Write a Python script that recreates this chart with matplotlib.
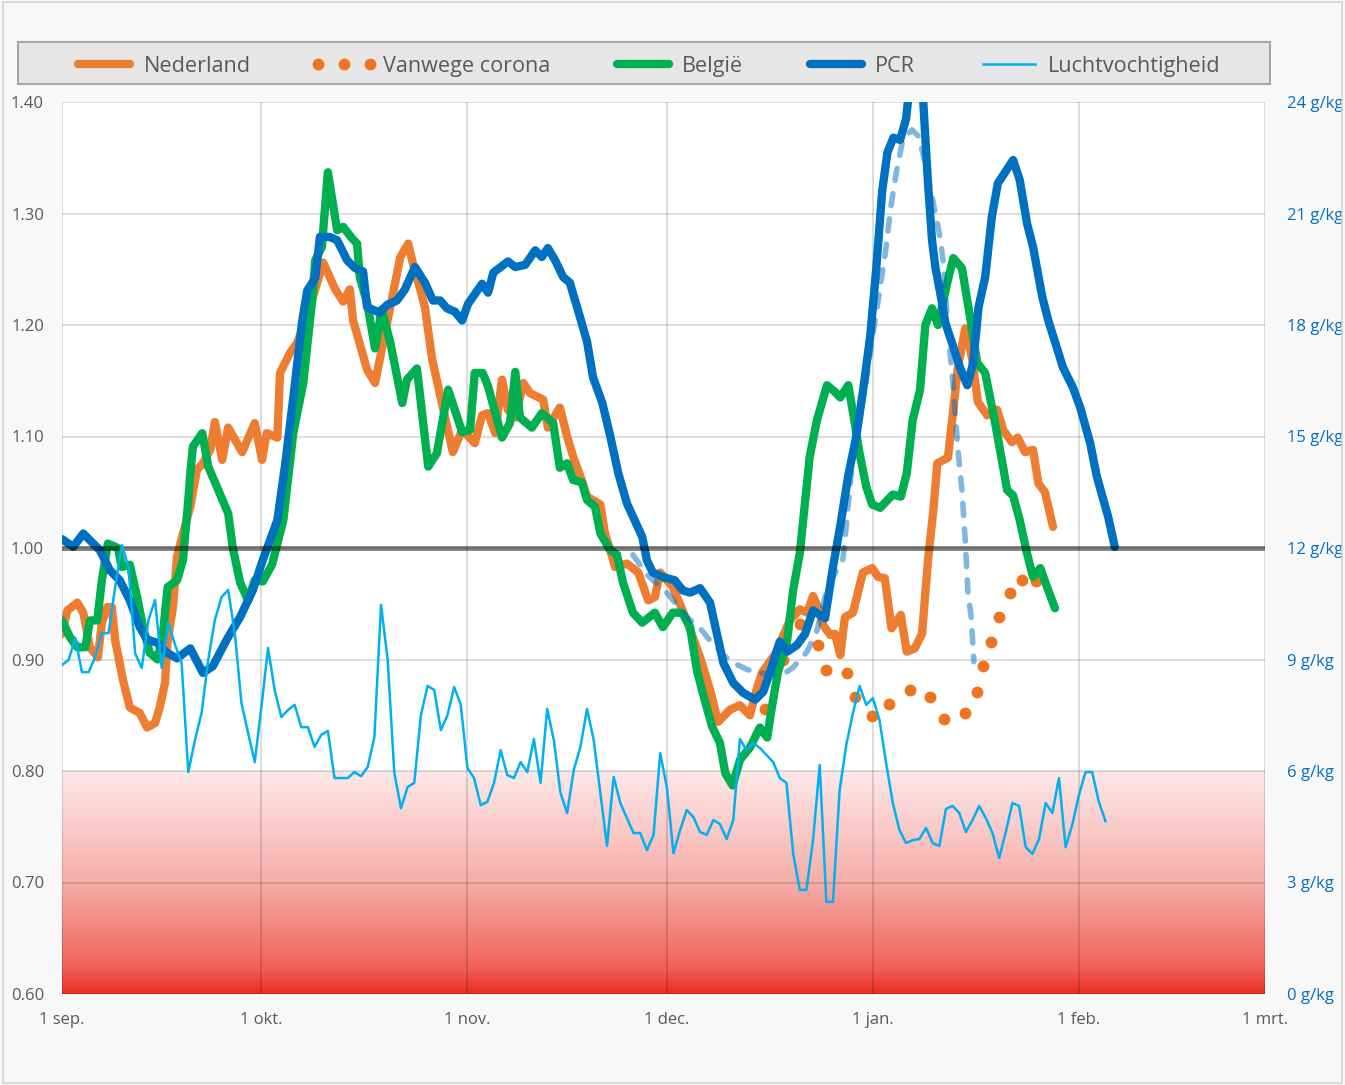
import numpy as np
import matplotlib.pyplot as plt
from matplotlib.colors import LinearSegmentedColormap
from matplotlib.patches import Rectangle

plt.rcParams['font.family'] = ['Open Sans', 'DejaVu Sans']

# x = days since 1 sep.
month_ticks = [0, 30, 61, 91, 122, 153, 181]
month_labels = ['1 sep.', '1 okt.', '1 nov.', '1 dec.', '1 jan.', '1 feb.', '1 mrt.']

# Nederland
nl_days = [0.0, 0.8, 2.3, 3.2, 4.2, 5.4, 6.0, 6.8, 7.5, 8.0, 9.2, 10.2, 11.7, 12.8, 14.0, 14.7,
           15.5, 15.9, 16.7, 17.3, 18.2, 19.3, 20.3, 21.2, 22.3, 23.0, 24.1, 25.0, 27.1, 29.0,
           30.1, 30.8, 32.4, 32.8, 34.3, 35.4, 37.3, 39.3, 41.1, 42.3, 43.3, 43.8, 45.9, 47.1,
           50.9, 52.1, 52.8, 53.9, 54.6, 55.7, 57.3, 58.8, 60.2, 62.1, 63.2, 64.1, 65.2, 66.2,
           67.1, 68.2, 69.4, 70.4, 72.4, 73.1, 74.9, 76.0, 76.9, 78.2, 79.0, 81.0, 81.7, 82.8,
           83.2, 85.0, 86.7, 88.2, 89.2, 90.0, 91.9, 94.0, 96.0, 97.5, 98.7, 100.5, 102.0, 103.5,
           104.6, 105.3, 107.3, 109.5, 111.0, 112.1, 113.0, 113.8, 114.5, 115.6, 116.3, 117.1,
           117.8, 119.0, 120.5, 121.9, 122.8, 123.8, 124.8, 126.2, 127.1, 128.3, 129.4, 130.3,
           131.1, 131.7, 133.3, 134.1, 134.8, 135.9, 136.9, 137.8, 139.2, 140.7, 141.6, 142.9,
           143.8, 144.9, 146.1, 146.9, 147.9, 149.1]
nl_vals = [0.923, 0.944, 0.951, 0.942, 0.911, 0.902, 0.933, 0.947, 0.947, 0.917, 0.881, 0.857,
           0.852, 0.839, 0.843, 0.857, 0.879, 0.917, 0.947, 0.992, 1.013, 1.037, 1.070, 1.076,
           1.088, 1.113, 1.079, 1.108, 1.086, 1.112, 1.079, 1.103, 1.099, 1.157, 1.175, 1.184,
           1.216, 1.256, 1.232, 1.221, 1.232, 1.204, 1.160, 1.148, 1.261, 1.273, 1.255, 1.232,
           1.216, 1.169, 1.126, 1.086, 1.106, 1.094, 1.119, 1.121, 1.103, 1.151, 1.124, 1.117,
           1.148, 1.139, 1.133, 1.108, 1.126, 1.100, 1.082, 1.061, 1.046, 1.039, 1.013, 0.992,
           0.983, 0.986, 0.978, 0.953, 0.956, 0.978, 0.965, 0.935, 0.902, 0.873, 0.844, 0.855,
           0.859, 0.850, 0.875, 0.888, 0.905, 0.935, 0.945, 0.942, 0.957, 0.946, 0.931, 0.922,
           0.923, 0.904, 0.938, 0.942, 0.978, 0.982, 0.974, 0.973, 0.928, 0.940, 0.907, 0.910,
           0.923, 0.989, 1.034, 1.076, 1.081, 1.124, 1.162, 1.197, 1.171, 1.131, 1.119, 1.124,
           1.106, 1.095, 1.099, 1.086, 1.088, 1.058, 1.050, 1.019]

# Vanwege corona
vc_days = [105.8, 108.5, 111.0, 113.8, 115.0, 118.1, 119.3, 121.9, 124.4, 127.6, 130.6, 132.7,
           135.9, 137.7, 138.6, 139.8, 141.0, 142.6, 144.4, 146.6]
vc_vals = [0.856, 0.900, 0.932, 0.913, 0.891, 0.888, 0.866, 0.849, 0.860, 0.873, 0.866, 0.847,
           0.852, 0.871, 0.894, 0.916, 0.938, 0.960, 0.971, 0.970]

# België
be_days = [0.0, 1.2, 2.3, 3.5, 4.2, 5.3, 6.0, 6.9, 8.4, 9.0, 10.2, 11.3, 12.2, 13.2, 14.4, 15.2,
           15.9, 17.3, 18.2, 19.0, 19.3, 19.7, 21.1, 22.0, 23.3, 25.0, 25.7, 26.8, 28.0, 29.0,
           30.2, 31.6, 32.4, 33.3, 34.8, 36.3, 37.6, 38.1, 39.1, 40.0, 41.4, 42.3, 43.6, 44.4,
           44.8, 45.9, 47.1, 48.1, 49.4, 51.2, 51.9, 53.4, 55.1, 56.4, 58.1, 60.2, 61.4, 62.1,
           63.3, 64.1, 66.2, 67.4, 68.2, 68.9, 70.7, 72.2, 73.9, 74.9, 76.0, 76.9, 78.2, 79.0,
           80.2, 81.0, 82.5, 83.5, 84.4, 85.9, 87.3, 89.2, 90.4, 91.9, 93.3, 94.5, 95.5, 96.4,
           97.8, 99.0, 99.8, 100.9, 102.0, 103.5, 105.0, 106.1, 106.8, 107.7, 109.1, 110.0, 111.0,
           112.5, 113.6, 115.1, 116.3, 117.1, 118.3, 119.2, 119.9, 121.0, 121.9, 123.1, 125.0,
           126.2, 127.1, 128.0, 129.1, 129.9, 130.9, 131.8, 133.2, 134.1, 135.4, 136.6, 137.7,
           138.9, 140.4, 141.4, 142.2, 143.1, 144.1, 145.2, 146.1, 147.2, 148.2, 149.4]
be_vals = [0.935, 0.920, 0.911, 0.911, 0.935, 0.935, 0.971, 1.004, 1.000, 0.983, 0.985, 0.956,
           0.929, 0.906, 0.900, 0.924, 0.965, 0.971, 0.989, 1.043, 1.067, 1.091, 1.103, 1.073,
           1.055, 1.031, 1.000, 0.969, 0.953, 0.971, 0.970, 0.985, 1.004, 1.025, 1.103, 1.148,
           1.220, 1.258, 1.270, 1.337, 1.285, 1.288, 1.278, 1.273, 1.243, 1.220, 1.179, 1.214,
           1.184, 1.130, 1.151, 1.161, 1.073, 1.085, 1.142, 1.104, 1.106, 1.157, 1.157, 1.145,
           1.099, 1.112, 1.158, 1.117, 1.108, 1.121, 1.112, 1.072, 1.076, 1.061, 1.059, 1.043,
           1.037, 1.013, 0.998, 0.994, 0.969, 0.942, 0.933, 0.942, 0.929, 0.942, 0.942, 0.929,
           0.891, 0.870, 0.840, 0.825, 0.798, 0.787, 0.810, 0.821, 0.839, 0.830, 0.857, 0.888,
           0.917, 0.962, 0.995, 1.082, 1.115, 1.146, 1.140, 1.135, 1.146, 1.115, 1.088, 1.055,
           1.039, 1.036, 1.048, 1.046, 1.067, 1.115, 1.142, 1.200, 1.215, 1.200, 1.238, 1.260,
           1.251, 1.208, 1.166, 1.157, 1.112, 1.079, 1.052, 1.047, 1.025, 0.995, 0.974, 0.982,
           0.965, 0.946]

# PCR
pcr_days = [0.0, 1.7, 3.2, 4.7, 5.7, 7.2, 8.7, 10.2, 11.7, 12.8, 14.3, 15.8, 17.3, 19.3, 21.2,
            22.7, 24.8, 26.8, 28.7, 30.2, 31.3, 32.4, 33.6, 34.8, 36.1, 36.9, 38.1, 38.8, 40.3,
            41.4, 42.9, 44.1, 45.3, 45.9, 47.8, 48.9, 50.4, 51.6, 53.1, 54.6, 55.8, 56.9, 57.9,
            59.1, 60.2, 61.1, 63.2, 64.1, 64.9, 67.1, 68.2, 69.7, 71.2, 72.2, 73.1, 74.2, 75.4,
            76.4, 77.5, 79.0, 79.9, 81.3, 82.5, 83.7, 85.0, 87.3, 88.0, 88.9, 90.4, 92.2, 93.4,
            94.5, 96.0, 97.5, 99.5, 101.0, 102.5, 104.3, 105.5, 106.5, 108.0, 109.1, 110.6, 111.8,
            113.0, 114.8, 116.0, 117.1, 118.3, 119.5, 120.5, 121.6, 122.5, 123.4, 124.2, 125.1,
            126.1, 127.0, 127.8, 129.3, 129.8, 130.3, 130.9, 131.4, 132.4, 132.9, 133.9, 135.1,
            136.2, 137.1, 137.9, 138.9, 139.9, 140.8, 143.1, 144.1, 145.2, 146.1, 147.5, 148.4,
            150.6, 152.1, 153.2, 154.7, 155.7, 157.4, 158.4]
pcr_vals = [1.008, 1.001, 1.013, 1.004, 0.998, 0.980, 0.971, 0.953, 0.929, 0.918, 0.915, 0.906,
            0.901, 0.910, 0.888, 0.894, 0.918, 0.938, 0.962, 0.989, 1.007, 1.025, 1.076, 1.135,
            1.202, 1.231, 1.242, 1.279, 1.279, 1.276, 1.258, 1.251, 1.248, 1.216, 1.211, 1.218,
            1.222, 1.232, 1.252, 1.238, 1.222, 1.222, 1.215, 1.212, 1.204, 1.219, 1.237, 1.229,
            1.247, 1.257, 1.252, 1.254, 1.267, 1.261, 1.269, 1.258, 1.243, 1.238, 1.216, 1.185,
            1.153, 1.130, 1.100, 1.067, 1.040, 1.010, 0.989, 0.978, 0.974, 0.971, 0.962, 0.960,
            0.964, 0.951, 0.897, 0.879, 0.870, 0.864, 0.871, 0.888, 0.916, 0.907, 0.913, 0.923,
            0.944, 0.937, 0.983, 1.020, 1.065, 1.100, 1.140, 1.190, 1.250, 1.320, 1.355, 1.368,
            1.366, 1.385, 1.430, 1.430, 1.378, 1.327, 1.276, 1.252, 1.220, 1.202, 1.184, 1.162,
            1.146, 1.166, 1.216, 1.243, 1.297, 1.327, 1.348, 1.330, 1.291, 1.270, 1.225, 1.204,
            1.162, 1.144, 1.126, 1.094, 1.064, 1.028, 1.001]

# unlabelled dashed series
dash_days = [85.9, 88.0, 91.0, 94.0, 96.0, 97.5, 99.5, 101.0, 103.1, 105.0, 107.0, 109.1, 110.0,
             112.1, 113.6, 114.8, 116.0, 117.5, 119.5, 120.8, 121.9, 122.9, 124.0, 124.7, 125.5,
             126.5, 127.9, 128.9, 130.0, 131.0, 132.1, 132.6, 133.3, 134.1, 134.8, 135.4, 135.9,
             136.3, 136.8, 137.2]
dash_vals = [0.994, 0.976, 0.960, 0.938, 0.928, 0.917, 0.904, 0.897, 0.891, 0.888, 0.886, 0.889,
             0.893, 0.907, 0.926, 0.956, 0.974, 0.990, 1.112, 1.142, 1.187, 1.226, 1.270, 1.306,
             1.336, 1.366, 1.375, 1.369, 1.342, 1.312, 1.279, 1.256, 1.196, 1.144, 1.088, 1.052,
             1.007, 0.960, 0.938, 0.898]

# Luchtvochtigheid (g/kg), one value per day from 1 sep.
hum_vals = [8.85, 8.99, 9.58, 8.66, 8.66, 9.07, 9.71, 9.71, 10.95, 12.08, 11.49, 9.17, 8.77, 10.06,
            10.6, 8.77, 9.98, 9.4, 8.9, 5.97, 6.83, 7.56, 8.99, 10.06, 10.68, 10.87, 9.71, 7.83,
            7.02, 6.24, 7.72, 9.31, 8.18, 7.45, 7.64, 7.78, 7.18, 7.18, 6.65, 6.97, 7.08, 5.81,
            5.81, 5.81, 5.97, 5.86, 6.11, 6.91, 10.47, 8.99, 5.95, 5.0, 5.57, 5.68, 7.5, 8.29,
            8.18, 7.1, 7.5, 8.26, 7.78, 6.08, 5.81, 5.08, 5.17, 5.68, 6.56, 5.89, 5.81, 6.24,
            5.97, 6.86, 5.68, 7.67, 6.83, 5.41, 4.87, 6.03, 6.65, 7.67, 6.83, 5.41, 3.98, 5.84,
            5.14, 4.73, 4.33, 4.33, 3.87, 4.28, 6.48, 5.57, 3.79, 4.41, 4.95, 4.76, 4.36, 4.28,
            4.68, 4.57, 4.17, 4.68, 6.86, 6.56, 6.75, 6.62, 6.43, 6.24, 5.81, 5.68, 3.79, 2.8,
            2.8, 4.14, 6.16, 2.48, 2.48, 5.49, 6.7, 7.56, 8.29, 7.78, 7.96, 7.37, 6.21, 5.14,
            4.41, 4.06, 4.14, 4.17, 4.47, 4.06, 3.98, 4.98, 5.06, 4.87, 4.36, 4.68, 5.06, 4.73,
            4.33, 3.66, 4.36, 5.14, 5.06, 3.95, 3.77, 4.17, 5.14, 4.87, 5.81, 3.95, 4.55, 5.35,
            5.97, 5.97, 5.17, 4.65]
hum_days = np.arange(len(hum_vals))

grey_txt = '#595959'

fig = plt.figure(figsize=(13.45, 10.85), dpi=100, facecolor='#f8f8f8')
fig.patches.append(Rectangle((0.002, 0.002), 0.996, 0.996, transform=fig.transFigure,
                             fill=False, edgecolor='#d4d4d4', lw=1.2))

ax = fig.add_axes([62 / 1345, 1 - 994 / 1085, 1203 / 1345, 892 / 1085])
ax.set_facecolor('white')

# red zone below 0.80
red_cmap = LinearSegmentedColormap.from_list(
    'redzone', [(0.0, '#ec2d22'), (0.12, '#f0625a'), (0.5, '#f6aea9'), (1.0, '#fde8e8')])
grad = np.linspace(0, 1, 256).reshape(-1, 1)
ax.imshow(grad, cmap=red_cmap, extent=(0, 181, 0.6, 0.8), origin='lower',
          aspect='auto', zorder=0)

ax.plot(nl_days, nl_vals, color='#ed7d31', lw=6, solid_joinstyle='round',
        solid_capstyle='round', zorder=3, label='Nederland')
ax.plot(vc_days, vc_vals, ls='none', marker='o', ms=8.5, color='#ee7420', mec='none',
        zorder=3.5, label='Vanwege corona')
ax.plot(be_days, be_vals, color='#00b050', lw=6, solid_joinstyle='round',
        solid_capstyle='round', zorder=4, label='België')
ax.plot(pcr_days, pcr_vals, color='#0070c0', lw=6, solid_joinstyle='round',
        solid_capstyle='round', zorder=5, label='PCR')
ax.plot(dash_days, dash_vals, color='#0070c0', alpha=0.5, lw=4, ls=(0, (2.2, 2.4)),
        dash_capstyle='round', zorder=6)
ax.axhline(1.0, color='black', alpha=0.5, lw=3.5, zorder=7)

ax.set_xlim(0, 181)
ax.set_ylim(0.6, 1.4)
ax.set_xticks(month_ticks, month_labels)
yt = np.round(np.arange(0.6, 1.401, 0.1), 2)
ax.set_yticks(yt, [f'{v:.2f}' for v in yt])
ax.set_axisbelow(True)
ax.grid(True, color='black', alpha=0.15, lw=1.3)
for s in ax.spines.values():
    s.set_visible(False)
ax.tick_params(length=0, labelsize=12, labelcolor=grey_txt)
ax.tick_params(axis='y', pad=13)
ax.tick_params(axis='x', pad=13)

ax2 = ax.twinx()
ax2.plot(hum_days, hum_vals, color='#00b0f0', lw=1.8, solid_joinstyle='round',
         label='Luchtvochtigheid')
ax2.set_ylim(0, 24)
rt = np.arange(0, 25, 3)
ax2.set_yticks(rt, [f'{v} g/kg' for v in rt])
for s in ax2.spines.values():
    s.set_visible(False)
ax2.tick_params(length=0, labelsize=12, labelcolor='#0070c0', pad=16)

# legend box
fig.patches.append(Rectangle((18 / 1345, 1 - 84 / 1085), 1252 / 1345, 42 / 1085,
                             transform=fig.transFigure, facecolor='#e6e6e6',
                             edgecolor='#a6a6a6', lw=1.5, zorder=0))
h1, l1 = ax.get_legend_handles_labels()
h2, l2 = ax2.get_legend_handles_labels()
fig.legend(h1 + h2, l1 + l2, loc='center', bbox_to_anchor=(646 / 1345, 1 - 66 / 1085),
           ncol=5, frameon=False, fontsize=15.6, handlelength=3.0, columnspacing=2.8,
           handletextpad=0.3, numpoints=3, labelcolor=grey_txt)

fig.savefig('out.png', dpi=100, facecolor=fig.get_facecolor())
